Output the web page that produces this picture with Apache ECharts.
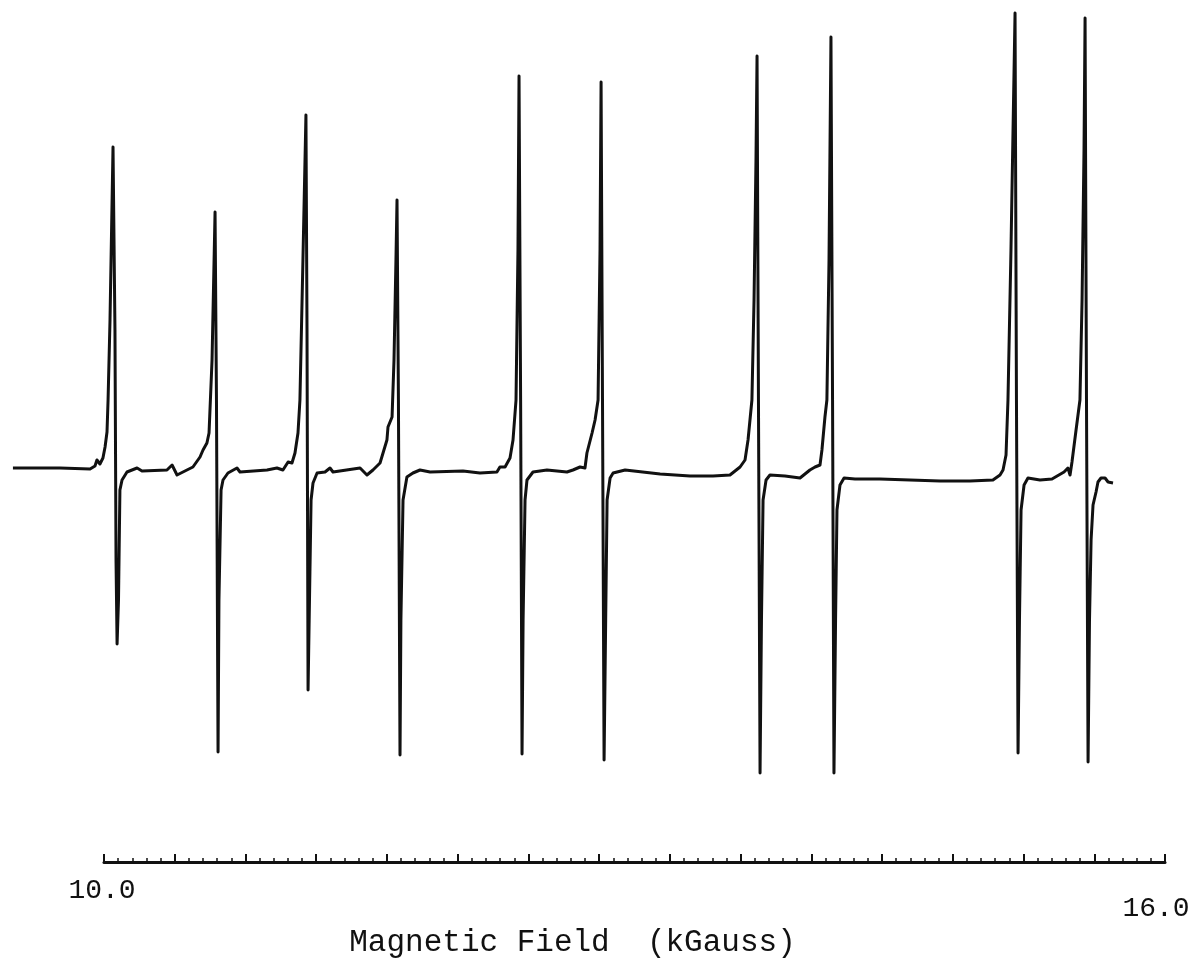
<!DOCTYPE html>
<html>
<head>
<meta charset="utf-8">
<title>Magnetic Field spectrum</title>
<script src="https://cdn.jsdelivr.net/npm/echarts/dist/echarts.min.js"></script>
<style>
  html, body { margin: 0; padding: 0; background: #fff; }
  #chart { width: 1198px; height: 963px; }
</style>
</head>
<body>
<div id="chart"></div>
<script>
// field in kGauss, signal in arbitrary units (baseline ~ 0)
const field = [
  9.485, 9.751, 9.921, 9.949, 9.960, 9.977, 9.994, 10.006, 10.017, 10.023, 10.034, 10.051,
  10.062, 10.068, 10.074, 10.082, 10.090, 10.102, 10.130, 10.187, 10.215, 10.356, 10.385,
  10.413, 10.469, 10.503, 10.543, 10.560, 10.582, 10.594, 10.611, 10.628, 10.636, 10.645,
  10.650, 10.662, 10.673, 10.701, 10.752, 10.769, 10.922, 10.978, 11.012, 11.041, 11.063,
  11.080, 11.097, 11.108, 11.125, 11.142, 11.148, 11.154, 11.162, 11.171, 11.182, 11.205,
  11.250, 11.278, 11.295, 11.448, 11.487, 11.521, 11.561, 11.600, 11.606, 11.629, 11.640,
  11.651, 11.657, 11.665, 11.674, 11.679, 11.691, 11.713, 11.747, 11.787, 11.844, 12.030,
  12.126, 12.222, 12.239, 12.268, 12.296, 12.313, 12.330, 12.341, 12.347, 12.356, 12.364,
  12.370, 12.381, 12.392, 12.426, 12.505, 12.618, 12.652, 12.692, 12.720, 12.731, 12.760,
  12.777, 12.794, 12.805, 12.811, 12.819, 12.828, 12.837, 12.845, 12.862, 12.879, 12.947,
  13.145, 13.314, 13.444, 13.540, 13.597, 13.625, 13.642, 13.664, 13.676, 13.687, 13.693,
  13.701, 13.710, 13.718, 13.727, 13.744, 13.766, 13.851, 13.936, 13.992, 14.021, 14.049,
  14.060, 14.077, 14.088, 14.100, 14.111, 14.120, 14.128, 14.137, 14.145, 14.162, 14.185,
  14.247, 14.388, 14.558, 14.728, 14.897, 15.027, 15.067, 15.084, 15.101, 15.112, 15.129,
  15.152, 15.160, 15.169, 15.177, 15.186, 15.203, 15.225, 15.293, 15.361, 15.429, 15.451,
  15.463, 15.474, 15.497, 15.519, 15.531, 15.542, 15.548, 15.556, 15.565, 15.573, 15.582,
  15.593, 15.610, 15.621, 15.638, 15.661, 15.678, 15.706
]
const signal = [
  0, 0, -1, 2, 8, 4, 10, 21, 36, 68, 148, 321,
  138, -92, -176, -132, -22, -12, -4, 0, -3, -2, 3,
  -7, -2, 1, 11, 18, 25, 35, 108, 256, 68, -284,
  -132, -22, -12, -5, 0, -4, -2, 0, -2, 6, 5,
  15, 35, 68, 208, 353, 138, -222, -132, -32, -15, -5,
  -4, 0, -4, 0, -7, -2, 5, 28, 41, 51, 108,
  208, 268, 68, -287, -152, -32, -9, -5, -2, -4, -3,
  -5, -4, 1, 1, 10, 28, 68, 218, 392, 68, -286,
  -152, -32, -12, -4, -2, -4, -2, 1, 0, 15, 35,
  48, 68, 218, 386, 68, -292, -152, -32, -10, -5, -2,
  -6, -8, -8, -7, 1, 8, 28, 68, 168, 308, 412,
  68, -305, -152, -32, -12, -7, -8, -10, -2, 1, 3,
  18, 51, 68, 208, 431, 68, -305, -152, -42, -17, -10,
  -11, -11, -12, -13, -13, -12, -7, -2, 13, 68, 218,
  455, 68, -285, -152, -42, -17, -10, -12, -11, -4, 0,
  -7, 6, 38, 68, 168, 318, 450, 68, -294, -152, -72,
  -37, -24, -14, -10, -10, -14, -15
]
const fieldMin = 10
const fieldMax = 16
const majorStep = 0.4
const edgeLabels = ['10.0', '16.0']
const axisTitle = 'Magnetic Field  (kGauss)'

// the recorder trace starts left of the 10.0 mark, so the trace has its own
// full-width grid whose hidden field axis lines up with the drawn scale
const scaleLeft = 104
const scaleRight = 33
const chartWidth = 1198
const pxPerKG = (chartWidth - scaleLeft - scaleRight) / (fieldMax - fieldMin)
const traceMin = fieldMin - scaleLeft / pxPerKG
const traceMax = fieldMax + scaleRight / pxPerKG

const chart = echarts.init(document.getElementById('chart'))

const points = field.map((b, i) => [b, signal[i]])

const monoFont = 'Liberation Mono, DejaVu Sans Mono, monospace'

chart.setOption({
  animation: false,
  backgroundColor: '#ffffff',
  grid: [
    { left: 0, right: 0, top: 3, bottom: 90 },
    { left: scaleLeft, right: scaleRight, top: 3, bottom: 90 }
  ],
  xAxis: [
    {
      gridIndex: 0,
      type: 'value',
      min: traceMin,
      max: traceMax,
      show: false
    },
    {
      gridIndex: 1,
      type: 'value',
      min: fieldMin,
      max: fieldMax,
      interval: majorStep,
      axisLine: {
        onZero: false,
        lineStyle: { color: '#111', width: 3 }
      },
      axisTick: {
        inside: true,
        length: 8,
        lineStyle: { color: '#111', width: 2 }
      },
      minorTick: {
        show: true,
        splitNumber: 5,
        length: 4,
        lineStyle: { color: '#111', width: 1.5 }
      },
      splitLine: { show: false },
      axisLabel: {
        margin: 14,
        fontFamily: monoFont,
        fontSize: 28,
        color: '#111',
        formatter: v => {
          if (Math.abs(v - fieldMin) < 1e-6) return '{l|' + edgeLabels[0] + '}'
          if (Math.abs(v - fieldMax) < 1e-6) return '{r|' + edgeLabels[1] + '}'
          return ''
        },
        rich: {
          l: { fontSize: 28, fontFamily: 'Liberation Mono', color: '#111', padding: [0, 4, 0, 0] },
          r: { fontSize: 28, fontFamily: 'Liberation Mono', color: '#111', padding: [18, 18, 0, 0] }
        }
      },
      name: axisTitle,
      nameLocation: 'middle',
      nameGap: 62,
      nameTextStyle: {
        fontFamily: monoFont,
        fontSize: 31,
        color: '#111',
        padding: [0, 124, 0, 0]
      }
    }
  ],
  yAxis: [
    { gridIndex: 0, type: 'value', min: -405, max: 465, show: false },
    { gridIndex: 1, type: 'value', min: -405, max: 465, show: false }
  ],
  series: [
    {
      type: 'line',
      xAxisIndex: 0,
      yAxisIndex: 0,
      data: points,
      showSymbol: false,
      clip: false,
      lineStyle: { color: '#111', width: 3, join: 'round' }
    }
  ]
})
</script>
</body>
</html>
